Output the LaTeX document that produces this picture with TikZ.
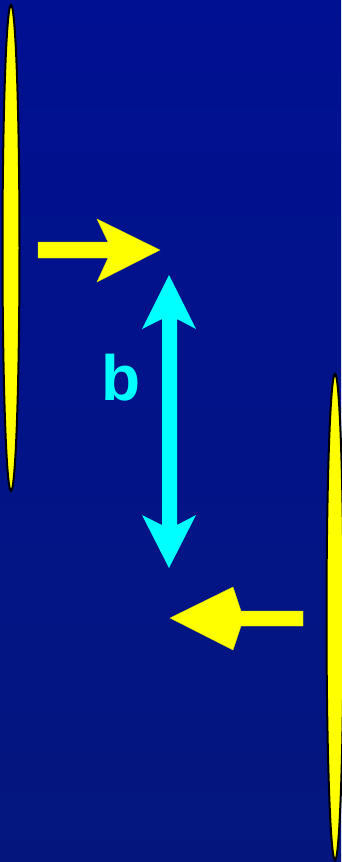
\documentclass[tikz,border=0pt]{standalone}
\usepackage{fontspec}
\setmainfont{Liberation Sans}
\begin{document}
\begin{tikzpicture}[x=1pt,y=-1pt,
  plate/.style={fill=pyellow,draw=black,line width=2pt},
  yarrow/.style={fill=pyellow,draw=pyellow!85!black,line width=0.4pt},
  carrow/.style={fill=pcyan,draw=none},
  lbl/.style={text=pcyan,font=\bfseries\fontsize{64}{64}\selectfont,inner sep=0pt}]
\definecolor{bgtop}{RGB}{0,16,146}
\definecolor{bgbot}{RGB}{4,22,126}
\definecolor{pyellow}{RGB}{255,255,0}
\definecolor{pcyan}{RGB}{0,255,255}
\useasboundingbox (0,0) rectangle (341,862);
\shade[top color=bgtop,bottom color=bgbot] (0,0) rectangle (341,862);
% plates
\draw[plate] (11,248) ellipse [x radius=8.5, y radius=243];
\draw[plate] (335,617) ellipse [x radius=8.5, y radius=243];
% top yellow arrow
\draw[yarrow] (38,242) -- (108,242) -- (97,219) -- (160,250) -- (97,282) -- (108,258) -- (38,258) -- cycle;
% bottom yellow arrow
\draw[yarrow] (303,611) -- (241,611) -- (233,587) -- (170,618) -- (233,650) -- (241,626) -- (303,626) -- cycle;
% cyan double arrow
\fill[carrow] (169,275) -- (196,329) -- (177,319) -- (177,525) -- (196,515) -- (169,568) -- (142,515) -- (162,525) -- (162,319) -- (142,329) -- cycle;
\node[lbl] (b) at (121,378) {b};
\end{tikzpicture}
\end{document}
